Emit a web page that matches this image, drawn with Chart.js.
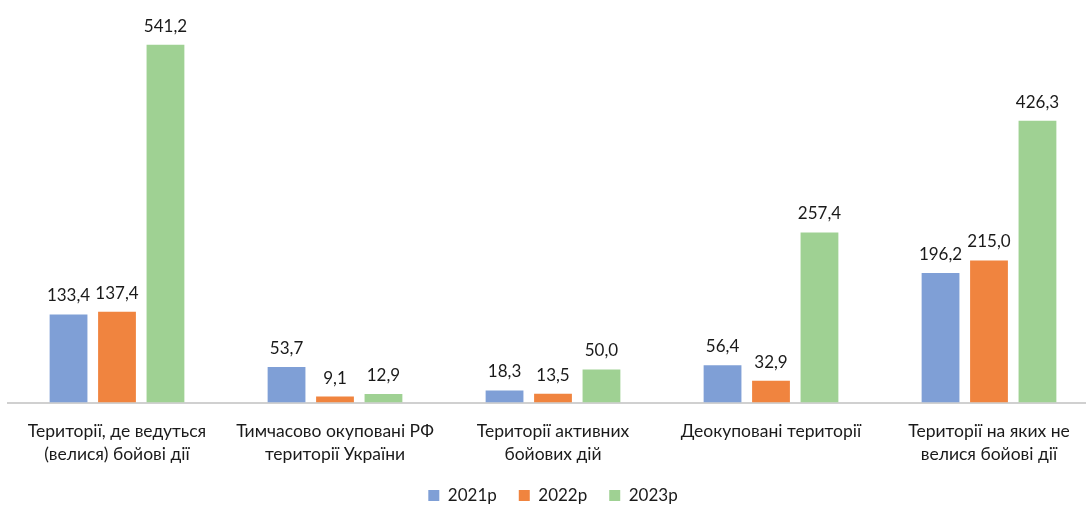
<!DOCTYPE html>
<html>
<head>
<meta charset="utf-8">
<script src="https://cdn.jsdelivr.net/npm/chart.js@4"></script>
<style>
html,body{margin:0;padding:0;background:#fff;overflow:hidden;}
#wrap{width:1106px;height:506px;position:relative;}
</style>
</head>
<body>
<div id="wrap"><canvas id="c"></canvas></div>
<script>
const categories = [
  ["Території, де ведуться", "(велися) бойові дії"],
  ["Тимчасово окуповані РФ", "території України"],
  ["Території активних", "бойових дій"],
  ["Деокуповані території"],
  ["Території на яких не", "велися бойові дії"]
];
const seriesNames = ["2021р", "2022р", "2023р"];
const values2021 = [133.4, 53.7, 18.3, 56.4, 196.2];
const values2022 = [137.4, 9.1, 13.5, 32.9, 215.0];
const values2023 = [541.2, 12.9, 50.0, 257.4, 426.3];
const colors = ['#7F9FD6', '#F0843F', '#9FD193'];

const FONT = "Lato, 'Noto Sans', sans-serif";

const labelPlugin = {
  id: 'valueLabels',
  afterDatasetsDraw(chart) {
    const ctx = chart.ctx;
    ctx.save();
    ctx.font = "17px " + FONT;
    ctx.fillStyle = '#1a1a1a';
    ctx.textAlign = 'center';
    ctx.textBaseline = 'bottom';
    chart.data.datasets.forEach((ds, i) => {
      const meta = chart.getDatasetMeta(i);
      meta.data.forEach((bar, j) => {
        const v = ds.data[j];
        const txt = v.toFixed(1).replace('.', ',');
        ctx.fillText(txt, bar.x, bar.y - 10);
      });
    });
    ctx.restore();
  }
};

new Chart(document.getElementById('c'), {
  type: 'bar',
  data: {
    labels: categories,
    datasets: [
      {label: seriesNames[0], data: values2021, backgroundColor: colors[0]},
      {label: seriesNames[1], data: values2022, backgroundColor: colors[1]},
      {label: seriesNames[2], data: values2023, backgroundColor: colors[2]}
    ]
  },
  options: {
    responsive: true,
    maintainAspectRatio: false,
    animation: false,
    layout: {padding: {left: 8, right: 8, top: 6, bottom: -8}},
    datasets: {bar: {categoryPercentage: 0.667, barPercentage: 0.78}},
    plugins: {
      legend: {
        position: 'bottom',
        labels: {
          boxWidth: 11, boxHeight: 11, padding: 22,
          color: '#1a1a1a',
          font: {family: FONT, size: 17}
        }
      },
      tooltip: {enabled: false}
    },
    scales: {
      x: {
        grid: {display: false, drawTicks: false},
        border: {display: true, color: '#D0D0D0', width: 2},
        ticks: {
          color: '#1a1a1a',
          font: {family: FONT, size: 17.5, lineHeight: 1.27},
          padding: 18,
          maxRotation: 0,
          autoSkip: false
        },
        afterFit(scale) { scale.height -= 18; }
      },
      y: {
        display: false,
        min: 0,
        max: 600
      }
    }
  },
  plugins: [labelPlugin]
});
</script>
</body>
</html>
